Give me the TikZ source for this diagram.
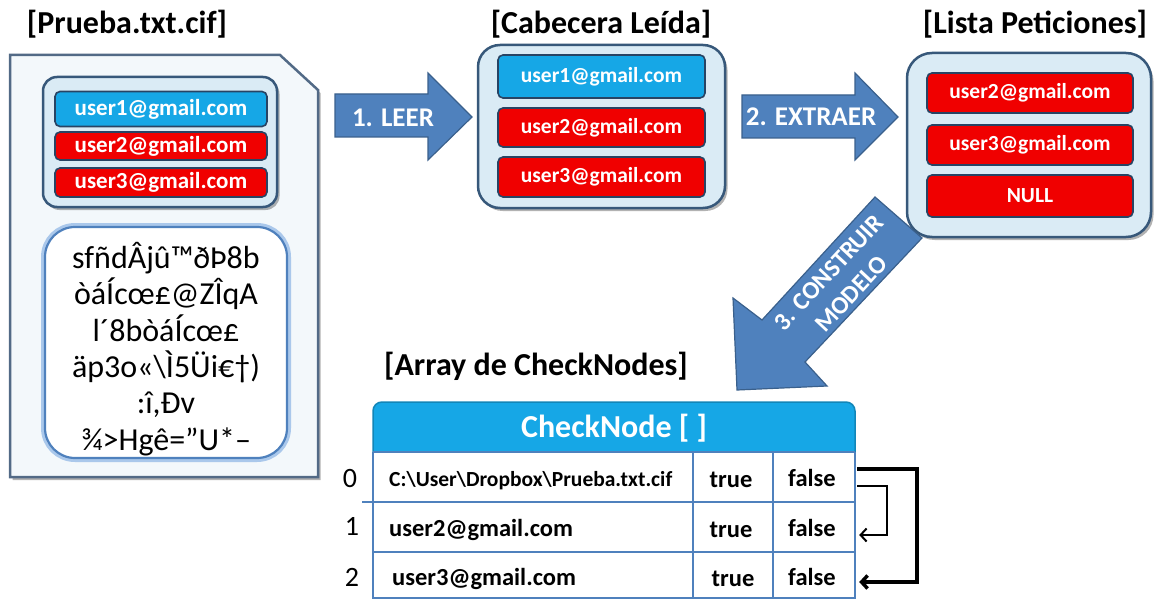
\documentclass[tikz,border=0pt]{standalone}
\usepackage{fontspec}
\setmainfont{Carlito}
\usetikzlibrary{shadows,arrows.meta}

\definecolor{cyanbox}{RGB}{22,167,230}
\definecolor{redbox}{RGB}{240,0,0}
\definecolor{mailborder}{RGB}{40,68,100}
\definecolor{contfill}{RGB}{218,235,245}
\definecolor{contborder}{RGB}{55,88,122}
\definecolor{docfill}{RGB}{243,248,251}
\definecolor{docborder}{RGB}{82,106,134}
\definecolor{arrowfill}{RGB}{79,129,189}
\definecolor{arrowborder}{RGB}{58,96,140}
\definecolor{gridblue}{RGB}{79,129,189}
\definecolor{glowblue}{RGB}{170,200,235}

\begin{document}
\begin{tikzpicture}[x=1pt,y=-1pt,
  title/.style={font=\bfseries\fontsize{32}{36}\selectfont, text=black, inner sep=0pt},
  softshadow/.style={drop shadow={shadow xshift=2.5pt, shadow yshift=-3pt, fill=black, opacity=0.3}},
  container/.style={draw=contborder, line width=2.5pt, fill=contfill, softshadow},
  mailbox/.style={draw=mailborder, line width=1.6pt, rounded corners=5pt, text=white,
    font=\bfseries\fontsize{21.5}{24}\selectfont, inner sep=0pt},
  bluemail/.style={mailbox, fill=cyanbox},
  redmail/.style={mailbox, fill=redbox},
  blockarrow/.style={fill=arrowfill, draw=arrowborder, line width=1.2pt, line join=miter},
  arrowtext/.style={text=white, font=\bfseries\fontsize{27}{30}\selectfont, inner sep=0pt},
  cellbold/.style={font=\bfseries\fontsize{24.5}{28}\selectfont, inner sep=0pt},
  falsecell/.style={cellbold, minimum width=82pt, minimum height=50pt},
  idx/.style={font=\fontsize{28}{30}\selectfont, inner sep=0pt},
  link/.style={draw=black, line join=miter, -{Straight Barb[length=6pt,width=13pt]}}
]
\useasboundingbox (0,0) rectangle (1154,599);

% ---------- encrypted file ----------
\node[title] (tfile) at (127,24) {[Prueba.txt.cif]};
\path[fill=docfill, draw=docborder, line width=2.5pt, line join=miter, softshadow]
  (10,55) -- (280,55) -- (318,90) -- (318,477) -- (10,477) -- cycle;
\node[container, rounded corners=14pt, minimum width=234pt, minimum height=130pt] (fhead) at (160,142) {};
\node[bluemail, minimum width=212pt, minimum height=35pt, font=\bfseries\fontsize{23}{26}\selectfont] (fu1) at (161,109) {user1@gmail.com};
\node[redmail, minimum width=212pt, minimum height=28pt, font=\bfseries\fontsize{23}{26}\selectfont] (fu2) at (161,146) {user2@gmail.com};
\node[redmail, minimum width=212pt, minimum height=29pt, font=\bfseries\fontsize{23}{26}\selectfont] (fu3) at (161,182.5) {user3@gmail.com};
\node[draw=gridblue, line width=2.2pt, fill=white, rounded corners=30pt,
      preaction={draw=glowblue, line width=8pt},
      minimum width=242pt, minimum height=231pt] (fbody) at (166,342.5) {};
\node[align=center, font=\fontsize{32}{36.3}\selectfont, inner sep=0pt] (fgarb) at (166,349)
  {sfñdÂjû™ðÞ8b\\òáÍcœ£@ZÎqA\\l´8bòáÍcœ£\\äp3o«\textbackslash Ì5Üi€†)\\:î,Ðv\\¾>Hgê=”U*–};

% ---------- step 1 ----------
\path[blockarrow] (335,94) -- (428,94) -- (428,73) -- (472,117) -- (428,160) -- (428,137) -- (335,137) -- cycle;
\node[arrowtext] (a1) at (393,118) {1. LEER};

% ---------- header read ----------
\node[title] (thead) at (601,24) {[Cabecera Leída]};
\node[container, rounded corners=22pt, minimum width=247pt, minimum height=163pt] (chead) at (601.5,126.5) {};
\node[bluemail, minimum width=207pt, minimum height=43pt] (cu1) at (601.5,76.5) {user1@gmail.com};
\node[redmail, minimum width=207pt, minimum height=39pt] (cu2) at (601.5,127.5) {user2@gmail.com};
\node[redmail, minimum width=207pt, minimum height=40pt] (cu3) at (601.5,177) {user3@gmail.com};

% ---------- step 2 ----------
\path[blockarrow] (742,95) -- (855,95) -- (855,73) -- (898,117) -- (855,160) -- (855,138) -- (742,138) -- cycle;
\node[arrowtext] (a2) at (811,117) {2. EXTRAER};

% ---------- request list ----------
\node[title] (tlist) at (1035,24) {[Lista Peticiones]};
\node[container, rounded corners=25pt, minimum width=244pt, minimum height=184pt] (lbox) at (1029,145) {};
\node[redmail, minimum width=206pt, minimum height=40pt] (lu2) at (1030,93) {user2@gmail.com};
\node[redmail, minimum width=206pt, minimum height=40pt] (lu3) at (1030,145) {user3@gmail.com};
\node[redmail, minimum width=206pt, minimum height=42pt] (lnull) at (1030,196) {NULL};

% ---------- step 3 ----------
\path[blockarrow] (875,197) -- (922,238) -- (805,362) -- (827,386) -- (737,390) -- (733,298) -- (762,320) -- cycle;
\node[arrowtext, rotate=47, align=center, font=\bfseries\fontsize{25}{31}\selectfont] (a3) at (840,283)
  {3. CONSTRUIR\\MODELO};

% ---------- CheckNode array ----------
\node[title] (tarr) at (536,366) {[Array de CheckNodes]};
\path[fill=cyanbox, draw=cyanbox!80!black, line width=1.5pt]
  (373,452) [rounded corners=9pt] -- (373,402) -- (855,402) [sharp corners] -- (855,452) -- cycle;
\node[text=white, font=\bfseries\fontsize{32}{36}\selectfont, inner sep=0pt] (hdr) at (614,428) {CheckNode [ ]};
\path[fill=white] (373,452) rectangle (855,599);
\draw[gridblue, line width=2.5pt]
  (373,452) -- (373,600) (855,452) -- (855,600)
  (373,452) -- (855,452)
  (362,502) -- (855,502)
  (373,552) -- (855,552)
  (373,598) -- (855,598)
  (693,452) -- (693,600)
  (773,452) -- (773,600);

\node[idx] (i0) at (350,479) {0};
\node[idx] (i1) at (352,526) {1};
\node[idx] (i2) at (352,577) {2};

\node[cellbold, anchor=west, font=\bfseries\fontsize{21.5}{24}\selectfont] (p0) at (389,481) {C:\textbackslash User\textbackslash Dropbox\textbackslash Prueba.txt.cif};
\node[cellbold, anchor=west] (p1) at (389,530) {user2@gmail.com};
\node[cellbold, anchor=west] (p2) at (392,579) {user3@gmail.com};
\node[cellbold] (t0) at (731,480) {true};
\node[cellbold] (t1) at (731,530) {true};
\node[cellbold] (t2) at (733,579) {true};
\node[falsecell] (f0) at (812,478) {false};
\node[falsecell] (f1) at (812,528) {false};
\node[falsecell] (f2) at (812,577) {false};

% links between entries
\draw[link, line width=3.5pt] ([shift={(4pt,9pt)}]f0.east) -- ++(60,0) |- ([shift={(6pt,-5pt)}]f2.east);
\draw[link, line width=2pt] ([shift={(4pt,-8pt)}]f0.east) -- ++(30,0) |- ([shift={(6pt,-7pt)}]f1.east);
\end{tikzpicture}
\end{document}
